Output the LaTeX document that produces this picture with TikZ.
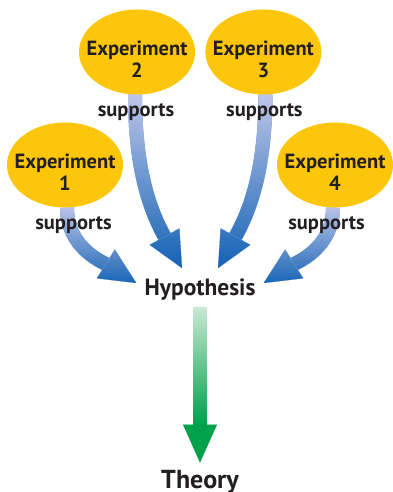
\documentclass[tikz,border=0pt]{standalone}
\usepackage{fontspec}
\setmainfont{PT Sans}
\usetikzlibrary{arrows.meta}
\usetikzlibrary{shapes.geometric}
\usetikzlibrary{fadings}
\usetikzlibrary{positioning}

\definecolor{expyellow}{RGB}{253,198,11}
\definecolor{inkgray}{RGB}{35,31,32}
\definecolor{blueD}{RGB}{11,94,178}
\definecolor{blueL}{RGB}{198,202,236}
\definecolor{greenD}{RGB}{0,161,75}
\definecolor{greenL}{RGB}{200,232,210}

\tikzfading[name=fade light, top color=transparent!0, bottom color=transparent!100]

\pgfdeclarelayer{background}
\pgfsetlayers{background,main}

\tikzset{
  experiment/.style={ellipse, fill=expyellow, minimum width=116pt, minimum height=85pt,
    inner sep=0pt},
  exptext/.style={align=center, inner sep=0pt, text=inkgray,
    font=\fontsize{20.5}{22}\selectfont\bfseries},
  supp/.style={anchor=base, inner sep=0pt, text=inkgray,
    font=\fontsize{20.5}{22}\selectfont\bfseries},
  stage/.style={anchor=base, inner sep=0pt, text=inkgray},
  support/.style={line width=14pt, draw=blueD,
    -{Triangle[width=34pt,length=36pt,line width=0.1pt]}},
  flow/.style={line width=14pt, draw=greenD,
    -{Triangle[width=34pt,length=38pt,line width=0.1pt]}},
}

% dark arrow, then a light copy that fades out downwards
\newcommand{\supportarrow}[1]{%
  \draw[support] #1;
  \draw[support, draw=blueL, path fading=fade light] #1;
}

\begin{document}
\begin{tikzpicture}[x=1pt, y=1pt]
  \useasboundingbox (0,0) rectangle (392,492);

  \node[experiment] (exp2) at (137,440) {};
  \node[experiment, right=10pt of exp2] (exp3) {};
  \node[experiment] (exp1) at (65,327) {};
  \node[experiment] (exp4) at (335,327) {};

  \node[exptext] (exp2 text) at ([yshift=-7pt]exp2.center) {Experiment\\2};
  \node[exptext] (exp3 text) at ([yshift=-7pt]exp3.center) {Experiment\\3};
  \node[exptext] (exp1 text) at ([yshift=-7pt]exp1.center) {Experiment\\1};
  \node[exptext] (exp4 text) at ([yshift=-7pt]exp4.center) {Experiment\\4};

  \node[supp] (sup2) at ([xshift=-1pt,yshift=-22pt]exp2.south) {supports};
  \node[supp] (sup3) at ([xshift=1pt,yshift=-22pt]exp3.south) {supports};
  \node[supp] (sup1) at ([xshift=8.5pt,yshift=-22pt]exp1.south) {supports};
  \node[supp] (sup4) at ([xshift=-8.5pt,yshift=-22pt]exp4.south) {supports};

  \node[stage, font=\fontsize{23.5}{26}\selectfont\bfseries] (hyp) at (200,196) {Hypothesis};
  \node[stage, font=\fontsize{26}{30}\selectfont\bfseries] (theory) at (200,4) {Theory};

  \begin{pgfonlayer}{background}
    \supportarrow{([xshift=-2pt]exp2.south) to[out=-90, in=119] ([shift={(-18pt,11pt)}]hyp.north)}
    \supportarrow{([xshift=2pt]exp3.south) to[out=-90, in=61] ([shift={(18pt,11pt)}]hyp.north)}
    \supportarrow{([xshift=2pt]exp1.south) to[out=-90, in=148] ([shift={(-8pt,7pt)}]hyp.west)}
    \supportarrow{([xshift=-2pt]exp4.south) to[out=-90, in=32] ([shift={(8pt,7pt)}]hyp.east)}

    \draw[flow] ([yshift=-6pt]hyp.south) -- ([yshift=7pt]theory.north);
    \shade[top color=greenL, bottom color=greenD]
      ([xshift=-7pt,yshift=-6pt]hyp.south) rectangle ([xshift=7pt,yshift=45pt]theory.north);
  \end{pgfonlayer}
\end{tikzpicture}
\end{document}
